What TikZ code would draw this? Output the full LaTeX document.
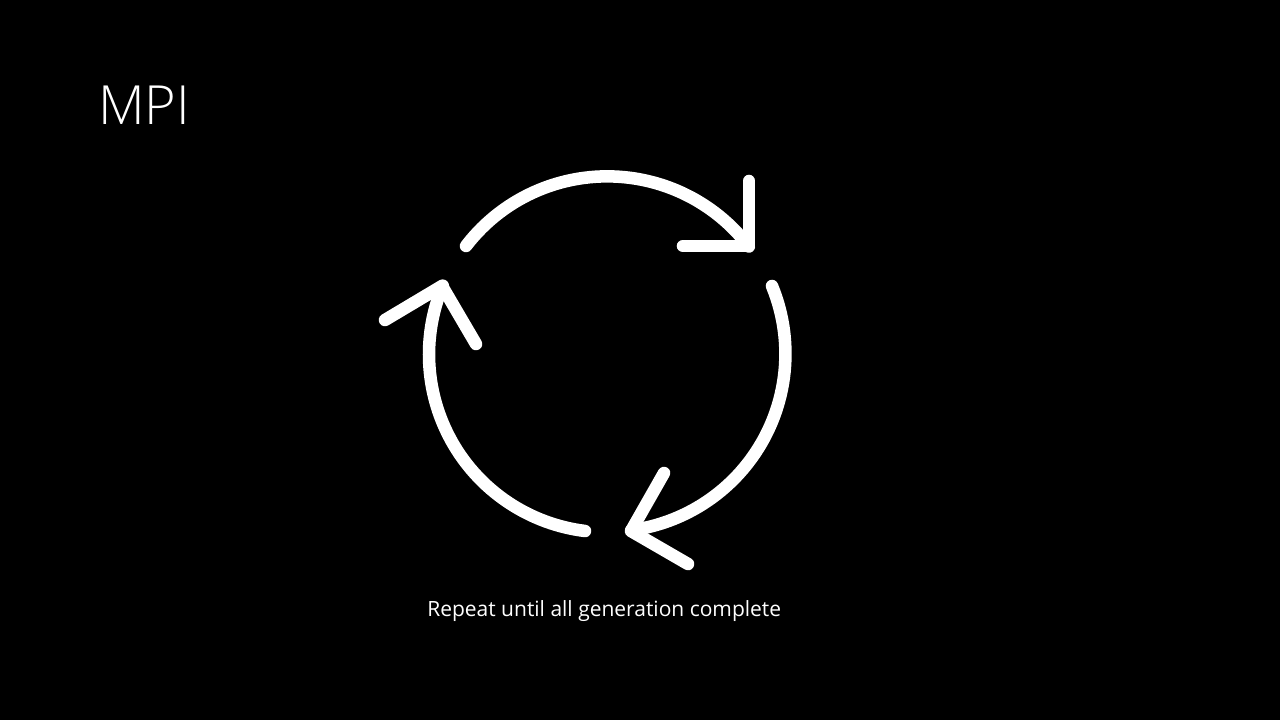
\documentclass[tikz,border=0pt]{standalone}
\usepackage{fontspec}
\setmainfont{Open Sans}
\newfontfamily\lightfont{Open Sans Light}
\begin{document}
\begin{tikzpicture}[x=0.75pt,y=-0.75pt,
  stroke/.style={draw=white,line width=9.4pt,line cap=round,line join=round},
  label/.style={text=white,inner sep=0pt,anchor=base west}]
\useasboundingbox (0,0) rectangle (1280,720);
\fill[black] (0,0) rectangle (1280,720);
\node[label,font=\lightfont\fontsize{40.5}{48}\selectfont] (title) at (98,125) {MPI};
\node[label,font=\fontsize{15.75}{19}\selectfont] (caption) at (427,616) {Repeat until all generation complete};
% top arrow
\coordinate (a1) at (466,246);
\coordinate (a2) at (749,181);
\coordinate (a3) at (749,246);
\coordinate (a4) at (683,246);
\draw[stroke] (a1) arc[start angle=142.5,end angle=37.3,radius=133.5pt];
\draw[stroke] (a2) -- (a3) -- (a4);
% right arrow
\coordinate (b1) at (772,286);
\coordinate (b2) at (664,473);
\coordinate (b3) at (631,531);
\coordinate (b4) at (688,564);
\draw[stroke] (b1) arc[start angle=22.4,end angle=-82.3,radius=133.5pt];
\draw[stroke] (b2) -- (b3) -- (b4);
% left arrow
\coordinate (c1) at (585,531);
\coordinate (c2) at (385,320);
\coordinate (c3) at (442,286);
\coordinate (c4) at (476,344);
\draw[stroke] (c1) arc[start angle=-97.1,end angle=-202.7,radius=133.5pt];
\draw[stroke] (c2) -- (c3) -- (c4);
\end{tikzpicture}
\end{document}
